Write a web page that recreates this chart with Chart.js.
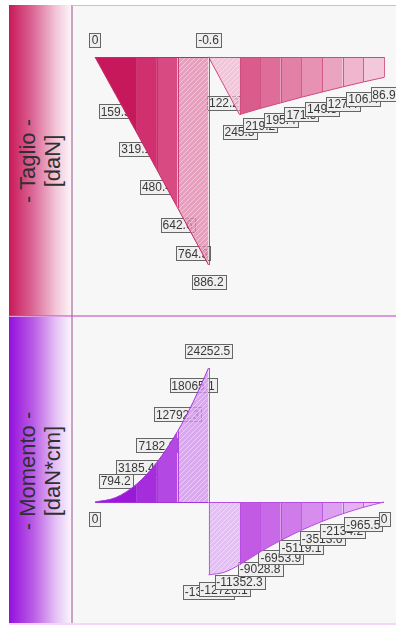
<!DOCTYPE html>
<html><head><meta charset="utf-8">
<script src="https://cdn.jsdelivr.net/npm/chart.js@4.4.1/dist/chart.umd.min.js"></script>
<style>
html,body{margin:0;padding:0;background:#fff;width:396px;height:626px;overflow:hidden;font-family:Arial,"Liberation Sans",sans-serif}
#plotbg{position:absolute;left:72px;top:5px;width:324px;height:619px;background:#f7f7f7}
.strip{position:absolute;left:9px;width:62px}
#s1{top:5px;height:311px;background:linear-gradient(to right,#c8185a 0%,#dc6a98 40%,#f2c4d6 75%,#fdf4f8 100%)}
#s2{top:317px;height:307px;background:linear-gradient(to right,#9410dc 0%,#bb5ee6 40%,#e4c0f4 75%,#fbf4fe 100%)}
.lbl{position:absolute;left:50%;top:50%;transform:translate(-50%,-50%) rotate(-90deg);white-space:nowrap;text-align:center;font-size:22px;line-height:25px;color:#303030}
#vline{position:absolute;left:71px;top:5px;width:1.5px;height:619px;background:#c9a3c4}
#hl1{position:absolute;left:72px;top:5px;width:324px;height:1px;background:#eab0c8}
#hl2{position:absolute;left:9px;top:315px;width:387px;height:2px;background:rgba(190,80,200,0.55)}
#hl3{position:absolute;left:9px;top:623px;width:387px;height:2px;background:#f6d6f8}
canvas{position:absolute}
#c1{left:72px;top:6px}
#c2{left:72px;top:318px}
</style></head>
<body>
<div id="plotbg"></div>
<div class="strip" id="s1"><div class="lbl" id="t1"></div></div>
<div class="strip" id="s2"><div class="lbl" id="t2"></div></div>
<div id="vline"></div><div id="hl1"></div><div id="hl2"></div><div id="hl3"></div>
<canvas id="c1" width="324" height="309"></canvas>
<canvas id="c2" width="324" height="305"></canvas>
<script>
// ---- data ----
const posLeft = [0, 10, 20, 30, 40, 47.5, 55];
const posRight = [55, 62.5, 70, 80, 90, 100, 110, 120, 130, 140];
const shearLeft = [0, 159.5, 319.1, 480.4, 642.6, 764.3, 886.2];
const shearRight = [-0.6, 122.2, 245.3, 219.2, 195.4, 171.5, 149.3, 127.4, 106.4, 86.9];
const momentLeft = [0, 794.2, 3185.4, 7182.6, 12792.3, 18065.1, 24252.5];
const momentRight = [-13181.5, -12726.1, -11352.3, -9028.8, -6953.9, -5119.1, -3513.6, -2134.2, -965.5, 0];
const titleShear = ["- Taglio -", "[daN]"];
const titleMoment = ["- Momento -", "[daN*cm]"];

document.getElementById('t1').innerHTML = titleShear.join('<br>');
document.getElementById('t2').innerHTML = titleMoment.join('<br>');

function hatch(base, line){
  const c = document.createElement('canvas'); c.width = c.height = 5;
  const g = c.getContext('2d');
  g.fillStyle = base; g.fillRect(0,0,5,5);
  g.strokeStyle = line; g.lineWidth = 1;
  g.beginPath();
  g.moveTo(0,5); g.lineTo(5,0);
  g.moveTo(-1,1); g.lineTo(1,-1);
  g.moveTo(4,6); g.lineTo(6,4);
  g.stroke();
  return g.createPattern(c,'repeat');
}
const H1 = hatch('rgba(226,136,174,0.78)','rgba(246,205,222,0.9)');
const H2 = hatch('rgba(238,182,206,0.75)','rgba(249,224,234,0.9)');
const H3 = hatch('rgba(210,146,236,0.78)','rgba(238,210,250,0.9)');
const H4 = hatch('rgba(222,172,242,0.75)','rgba(242,220,251,0.9)');

const segTopL = ['#c8185c','#c8185c','#d0306f','#d84a82',H1,H1];
const segTopR = [H2,H2,'#d95c8c','#de6e99','#e380a6','#e792b3','#eba4c0','#efb6cd','#f3c8da'];
const segBotL = ['#9c18d8','#9c18d8','#a62ddc','#b448e2',H3,H3];
const segBotR = [H4,H4,'#c25ae4','#c86ae7','#cf7bea','#d68ded','#dd9ff0','#e4b1f3','#ebc3f6'];

function pts(xs, ys){ return xs.map((x,i)=>({x:x, y:ys[i]})); }

const decor = {
  id:'decor',
  beforeDatasetsDraw(chart){
    const ctx = chart.ctx, ys = chart.scales.y;
    const dirPx = Math.sign(ys.getPixelForValue(1) - ys.getPixelForValue(0));
    ctx.save();
    ctx.font = '12px Arial, "Liberation Sans", sans-serif';
    ctx.textAlign = 'center'; ctx.textBaseline = 'middle';
    chart.data.datasets.forEach((ds,di)=>{
      const meta = chart.getDatasetMeta(di);
      meta.data.forEach((pt,i)=>{
        const v = ds.data[i].y;
        const txt = String(v);
        const dir = v > 0 ? 1 : -1;
        const cy = pt.y + dirPx*dir*17;
        const w = Math.round(ctx.measureText(txt).width + 4), h = 14;
        const bx = Math.round(pt.x - w/2) + 0.5, by = Math.round(cy - h/2) + 0.5;
        ctx.fillStyle = '#efefef'; ctx.fillRect(bx, by, w, h);
        ctx.strokeStyle = '#666'; ctx.lineWidth = 1; ctx.strokeRect(bx, by, w, h);
        ctx.fillStyle = '#383838'; ctx.fillText(txt, pt.x, cy + 1);
      });
    });
    ctx.restore();
  },
  afterDatasetsDraw(chart){
    const ctx = chart.ctx, ys = chart.scales.y;
    const y0 = ys.getPixelForValue(0);
    ctx.save();
    chart.data.datasets.forEach((ds,di)=>{
      const meta = chart.getDatasetMeta(di);
      const segs = ds.segColors;
      ctx.strokeStyle = ds.borderColor; ctx.lineWidth = 1;
      ctx.globalAlpha = 0.85;
      meta.data.forEach((pt,i)=>{
        const n = meta.data.length;
        if (i>0 && i<n-1 && segs[i-1] === segs[i]) return;
        ctx.beginPath(); ctx.moveTo(Math.round(pt.x)+0.5, pt.y); ctx.lineTo(Math.round(pt.x)+0.5, y0); ctx.stroke();
      });
      ctx.globalAlpha = 1;
      const a = meta.data[0].x, b = meta.data[meta.data.length-1].x;
      ctx.beginPath(); ctx.moveTo(a, Math.round(y0)+0.5); ctx.lineTo(b, Math.round(y0)+0.5); ctx.stroke();
    });
    ctx.restore();
  }
};

function makeDs(xs, ys, segs, border, curved){
  return {
    data: pts(xs, ys),
    segColors: segs,
    borderColor: border,
    borderWidth: 1,
    pointRadius: 0,
    fill: 'origin',
    backgroundColor: segs[0],
    tension: 0,
    cubicInterpolationMode: curved ? 'monotone' : 'default',
    segment: { backgroundColor: c => segs[c.p0DataIndex] }
  };
}

function opts(ymin, ymax, rev){
  return {
    responsive:false, animation:false, devicePixelRatio:1,
    layout:{padding:0},
    plugins:{legend:{display:false}, tooltip:{enabled:false}},
    scales:{
      x:{type:'linear', display:false, min:-11.14, max:145.81},
      y:{type:'linear', display:false, min:ymin, max:ymax, reverse:rev}
    }
  };
}

new Chart(document.getElementById('c1'), {
  type:'line',
  data:{datasets:[
    makeDs(posLeft, shearLeft, segTopL, '#c42a66', false),
    makeDs(posRight, shearRight, segTopR, '#cc4a7c', false)
  ]},
  options: opts(-217.3, 1099.2, true),
  plugins:[decor]
});

new Chart(document.getElementById('c2'), {
  type:'line',
  data:{datasets:[
    makeDs(posLeft, momentLeft, segBotL, '#a234d8', true),
    makeDs(posRight, momentRight, segBotR, '#b44ee0', true)
  ]},
  options: opts(-21899, 33302, false),
  plugins:[decor]
});
</script>
</body></html>
